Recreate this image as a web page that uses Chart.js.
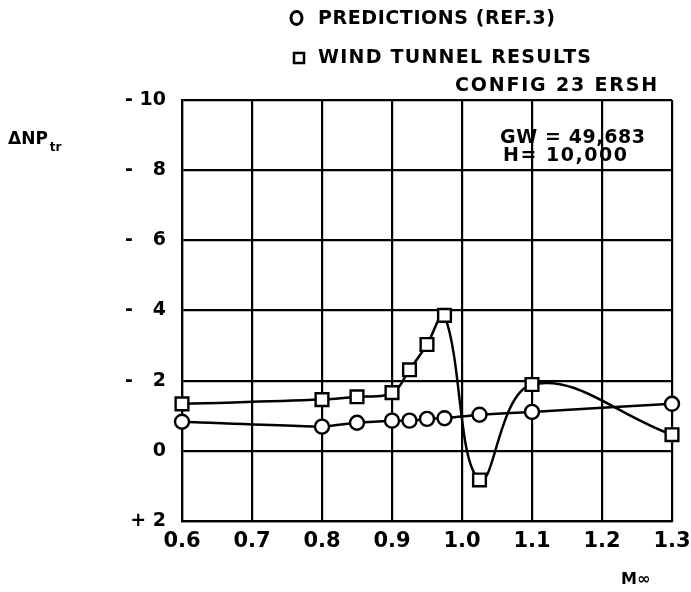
<!DOCTYPE html>
<html>
<head>
<meta charset="utf-8">
<script src="https://cdn.jsdelivr.net/npm/chart.js@4/dist/chart.umd.min.js"></script>
<style>
  html, body { margin: 0; padding: 0; background: #fff; }
  #c { display: block; }
</style>
</head>
<body>
<canvas id="c" width="691" height="592"></canvas>
<script>
// ---- data ----
const machPredictions = [0.6, 0.8, 0.85, 0.9, 0.925, 0.95, 0.975, 1.025, 1.1, 1.3];
const predictionValues = [-0.83, -0.69, -0.80, -0.86, -0.86, -0.91, -0.93, -1.03, -1.11, -1.34];
const machTunnel = [0.6, 0.8, 0.85, 0.9, 0.925, 0.95, 0.975, 1.025, 1.1, 1.3];
const tunnelValues = [-1.34, -1.46, -1.54, -1.66, -2.31, -3.03, -3.86, 0.83, -1.89, -0.46];

const xTickValues = [0.6, 0.7, 0.8, 0.9, 1.0, 1.1, 1.2, 1.3];
const xTickLabels = ["0.6", "0.7", "0.8", "0.9", "1.0", "1.1", "1.2", "1.3"];
const yTickValues = [-10, -8, -6, -4, -2, 0, 2];
const yTickLabels = ["- 10", "-   8", "-   6", "-   4", "-   2", "0", "+ 2"];

const seriesNames = ["PREDICTIONS (REF.3)", "WIND TUNNEL RESULTS"];
const configText = "CONFIG 23 ERSH";
const noteLines = ["GW = 49,683", "H= 10,000"];
const yTitle = "\u0394NP";
const yTitleSub = "tr";
const xTitle = "M\u221E";

const FONT = "'DejaVu Sans', sans-serif";

function fitText(ctx, text, x, y, width, size) {
  ctx.font = "bold " + size + "px " + FONT;
  if ('letterSpacing' in ctx) {
    ctx.letterSpacing = "0px";
    const w = ctx.measureText(text).width;
    const sp = (width - w) / Math.max(1, text.length - 1);
    ctx.letterSpacing = sp.toFixed(2) + "px";
  }
  ctx.fillText(text, x, y);
  if ('letterSpacing' in ctx) ctx.letterSpacing = "0px";
}

const textPlugin = {
  id: 'texts',
  afterDraw(chart) {
    const ctx = chart.ctx;
    ctx.save();
    ctx.fillStyle = '#000';
    ctx.strokeStyle = '#000';
    ctx.textBaseline = 'middle';
    ctx.textAlign = 'left';
    // legend symbols
    ctx.lineWidth = 3;
    ctx.beginPath();
    ctx.ellipse(296.5, 18, 5.5, 6.5, 0, 0, Math.PI * 2);
    ctx.stroke();
    ctx.lineWidth = 2.5;
    ctx.strokeRect(294, 53, 10, 10);
    // legend texts
    fitText(ctx, seriesNames[0], 318, 19, 237, 19);
    fitText(ctx, seriesNames[1], 318, 58, 273, 19);
    fitText(ctx, configText, 455, 86, 202, 19);
    // notes
    fitText(ctx, noteLines[0], 500, 138, 145, 19);
    fitText(ctx, noteLines[1], 503, 156, 124, 19);
    // axis titles
    ctx.font = "bold 17px " + FONT;
    ctx.fillText(yTitle, 8, 140);
    const w = ctx.measureText(yTitle).width;
    ctx.font = "bold 12px " + FONT;
    ctx.fillText(yTitleSub, 8 + w + 2, 148);
    ctx.font = "bold 16px " + FONT;
    ctx.fillText(xTitle, 621, 580);
    ctx.restore();
  }
};

new Chart(document.getElementById('c'), {
  type: 'line',
  data: {
    datasets: [
      {
        label: seriesNames[0],
        data: machPredictions.map((m, i) => ({ x: m, y: predictionValues[i] })),
        borderColor: '#000',
        borderWidth: 2.5,
        pointStyle: 'circle',
        pointRadius: 7,
        pointBorderWidth: 2.4,
        pointBackgroundColor: '#fff',
        pointBorderColor: '#000',
        tension: 0.15
      },
      {
        label: seriesNames[1],
        data: machTunnel.map((m, i) => ({ x: m, y: tunnelValues[i] })),
        borderColor: '#000',
        borderWidth: 2.5,
        pointStyle: 'rect',
        pointRadius: 9,
        pointBorderWidth: 2.4,
        pointBackgroundColor: '#fff',
        pointBorderColor: '#000',
        tension: 0.4
      }
    ]
  },
  options: {
    responsive: false,
    animation: false,
    clip: false,
    layout: { padding: { top: 100, right: 0, bottom: 0, left: 0 } },
    plugins: { legend: { display: false }, tooltip: { enabled: false } },
    scales: {
      x: {
        type: 'linear',
        min: 0.6,
        max: 1.3,
        afterBuildTicks(scale) { scale.ticks = xTickValues.map(v => ({ value: v })); },
        afterFit(scale) { scale.height = 71; scale.paddingRight = 19; scale.paddingLeft = 0; },
        grid: { color: '#000', lineWidth: 2.2, drawTicks: false },
        border: { color: '#000', width: 2.2 },
        ticks: {
          color: '#000',
          padding: 8,
          font: { family: FONT, size: 21, weight: 'bold' },
          maxRotation: 0,
          callback: (v, i) => xTickLabels[i]
        }
      },
      y: {
        type: 'linear',
        min: -10,
        max: 2,
        reverse: true,
        afterBuildTicks(scale) { scale.ticks = yTickValues.map(v => ({ value: v })); },
        afterFit(scale) { scale.width = 182; },
        grid: { color: '#000', lineWidth: 2.2, drawTicks: false },
        border: { color: '#000', width: 2.2 },
        ticks: {
          color: '#000',
          padding: 16,
          font: { family: FONT, size: 19, weight: 'bold' },
          callback: (v) => yTickLabels[yTickValues.indexOf(v)]
        }
      }
    }
  },
  plugins: [textPlugin]
});
</script>
</body>
</html>
